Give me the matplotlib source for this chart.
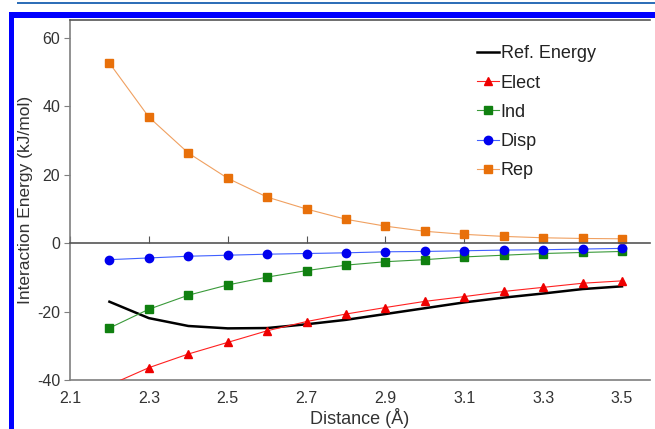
import numpy as np
import matplotlib
matplotlib.use("Agg")
import matplotlib.pyplot as plt
from matplotlib.patches import Rectangle

plt.rcParams['font.family'] = ['Liberation Sans', 'DejaVu Sans']
plt.rcParams['axes.unicode_minus'] = False

# -----------------------------
# Data
# -----------------------------
distance = [2.2, 2.3, 2.4, 2.5, 2.6, 2.7, 2.8, 2.9, 3.0, 3.1, 3.2, 3.3, 3.4, 3.5]

ref_energy = [-17.1, -21.9, -24.2, -24.9, -24.8, -23.7, -22.4, -20.7, -19.0, -17.3, -15.9, -14.7, -13.4, -12.6]
elect = [-41.5, -36.4, -32.4, -29.0, -25.6, -22.9, -20.7, -18.8, -17.0, -15.6, -14.1, -12.9, -11.7, -11.0]
ind = [-24.8, -19.3, -15.2, -12.2, -9.9, -8.0, -6.4, -5.4, -4.8, -4.0, -3.5, -3.0, -2.7, -2.4]
disp = [-4.8, -4.3, -3.8, -3.5, -3.2, -3.0, -2.8, -2.5, -2.4, -2.2, -2.0, -1.9, -1.7, -1.5]
rep = [52.7, 36.9, 26.4, 19.0, 13.5, 10.0, 7.0, 5.0, 3.5, 2.6, 2.0, 1.6, 1.4, 1.3]

x_ticks = [2.1, 2.3, 2.5, 2.7, 2.9, 3.1, 3.3, 3.5]
y_ticks = [-40, -20, 0, 20, 40, 60]

# -----------------------------
# Figure
# -----------------------------
W, H = 655, 429
fig = plt.figure(figsize=(W / 100, H / 100), dpi=100)
ax = fig.add_axes([70 / W, 1 - 380 / H, 580 / W, 360 / H])

grey = '#7f7f7f'
text_c = '#333333'

ax.plot(distance, ref_energy, color='black', lw=1.8, label='Ref. Energy')
ax.plot(distance, elect, color='#ff2020', lw=0.8, marker='^', ms=6,
        mec='#ee0000', mfc='#ee0000', label='Elect')
ax.plot(distance, ind, color='#3a9a3a', lw=0.8, marker='s', ms=5.5,
        mec='#108010', mfc='#108010', label='Ind')
ax.plot(distance, disp, color='#4060ff', lw=0.8, marker='o', ms=6,
        mec='#0000ee', mfc='#0000ee', label='Disp')
ax.plot(distance, rep, color='#f0a060', lw=0.8, marker='s', ms=5.5,
        mec='#e8700a', mfc='#e8700a', label='Rep')

ax.set_xlim(2.1, 3.571)
ax.set_ylim(-40, 65.3)

# x axis drawn through zero, labels on a secondary axis at the bottom
ax.spines['bottom'].set_position(('data', 0))
ax.spines['bottom'].set_color('#555555')
ax.spines['bottom'].set_linewidth(1.2)
ax.set_xticks(x_ticks)
ax.tick_params(axis='x', direction='in', length=5, color='#555555',
               labelbottom=False)

sec = ax.secondary_xaxis(0.0)
sec.set_xticks(x_ticks)
sec.set_xticklabels([f'{t:.1f}' for t in x_ticks])
sec.tick_params(length=0, pad=8, labelsize=11.5, labelcolor=text_c)
sec.spines['bottom'].set_color(grey)
sec.spines['bottom'].set_linewidth(1.2)
sec.set_xlabel('Distance (Å)', fontsize=13, color=text_c, labelpad=1)

ax.set_yticks(y_ticks)
ax.tick_params(axis='y', direction='out', length=4, color=grey,
               labelsize=11.5, labelcolor=text_c, pad=3)
ax.spines['left'].set_color(grey)
ax.spines['left'].set_linewidth(1.2)
ax.spines['top'].set_color('#555555')
ax.spines['top'].set_linewidth(1.2)
ax.spines['right'].set_visible(False)
ax.set_ylabel('Interaction Energy (kJ/mol)', fontsize=12.5, color=text_c,
              labelpad=3)

leg = ax.legend(loc='upper left', bbox_to_anchor=((470 - 70) / 580, 1 - 18 / 360),
                frameon=False, fontsize=13, handlelength=1.2,
                handletextpad=0.1, labelspacing=0.68, borderaxespad=0)
for t in leg.get_texts():
    t.set_color('#222222')

# -----------------------------
# Blue page frame
# -----------------------------
def px_rect(x, y, w, h, color):
    fig.add_artist(Rectangle((x / W, 1 - (y + h) / H), w / W, h / H,
                             transform=fig.transFigure, color=color, lw=0))

px_rect(17, 2, W - 17, 2, '#2f6fb8')
px_rect(9, 12, W - 9, 6, '#0000ff')
px_rect(9, 12, 5, H - 12, '#0000ff')

fig.savefig('out.png', dpi=100)
